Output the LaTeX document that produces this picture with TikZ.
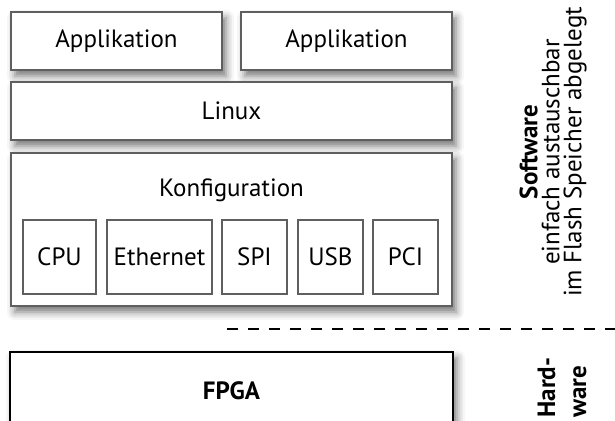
\documentclass[tikz,border=0pt]{standalone}
\usepackage{fontspec}
\setmainfont{PT Sans}
\usepackage{tikz}
\definecolor{rahmengrau}{RGB}{95,95,95}
\usetikzlibrary{shadows.blur}

\begin{document}
\begin{tikzpicture}[x=0.5pt, y=-0.5pt,
				schicht/.style={draw=rahmengrau, line width=0.6pt, fill=white, inner sep=0pt,
					blur shadow={shadow xshift=2pt, shadow yshift=-3pt, shadow blur radius=4pt, shadow opacity=55}},
				modul/.style={draw=rahmengrau, line width=0.6pt, fill=white, inner sep=0pt,
					minimum width=32.5pt, minimum height=37pt},
				font=\fontsize{12.5}{11}\selectfont]
				%Bildbereich
				\useasboundingbox (0,0) rectangle (615,421);
				\clip (0,0) rectangle (615,421);
				% Anwendungen
				\node[schicht, minimum width=105.5pt, minimum height=29pt] (app1) at (116.5,41) {Applikation};
				\node[schicht, minimum width=105.5pt, minimum height=29pt] (app2) at (346.5,41) {Applikation};
				% Betriebssystem
				\node[schicht, minimum width=220.5pt, minimum height=29pt] (linux) at (231.5,111) {Linux};
				% Konfiguration mit Modulen
				\node[schicht, minimum width=220.5pt, minimum height=76.5pt] (konfig) at (231.5,229.5) {};
				\node (konfigtitel) at (231.5,190) {Konfiguration};
				\node[modul, minimum width=36.5pt] (cpu) at (59.5,257) {CPU};
				\node[modul, minimum width=52.5pt] (eth) at (159.5,257) {Ethernet};
				\node[modul] (spi) at (254.5,257) {SPI};
				\node[modul] (usb) at (330.5,257) {USB};
				\node[modul] (pci) at (405.5,257) {PCI};
				% Trennlinie Software/Hardware
				\coordinate (trennlinks) at (227,329);
				\coordinate (trennrechts) at (615,329);
				\draw[line width=1pt, dash pattern=on 5.5pt off 5pt] (trennlinks) -- (trennrechts);
				% Hardware
				\node[schicht, draw=black, line width=1pt, minimum width=221.5pt, minimum height=39pt,
					font=\fontsize{12.5}{11}\selectfont\bfseries] (fpga) at (231.5,391) {FPGA};
				% Beschriftung rechts
				\node[rotate=90, align=center] (sw) at (553,152) {\textbf{Software}\\einfach austauschbar\\im Flash Speicher abgelegt};
				\node[rotate=90, align=left, anchor=west, inner sep=0pt,
					font=\fontsize{12.5}{15.5}\selectfont\bfseries] (hw) at (562,418) {Hard-\\ware};
			\end{tikzpicture}
\end{document}
